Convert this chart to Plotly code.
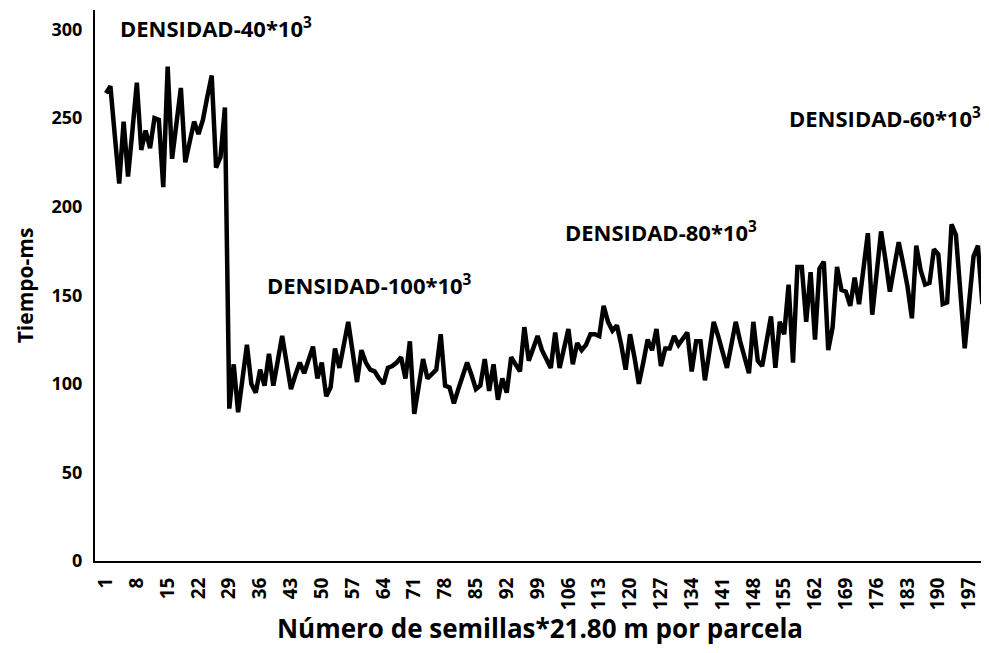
import plotly.graph_objects as go

# tiempo (ms) por semilla
tiempo_ms = [
    264, 268, 240, 213, 248, 217, 243, 270, 232, 243,
    233, 250, 249, 211, 279, 227, 247, 267, 225, 237,
    248, 241, 249, 262, 274, 222, 228, 256, 86, 111,
    84, 103, 122, 100, 95, 108, 99, 117, 99, 113,
    127, 112, 97, 105, 112, 106, 113, 121, 103, 112,
    93, 98, 120, 109, 122, 135, 118, 101, 119, 112,
    108, 107, 103, 100, 109, 110, 112, 115, 103, 124,
    83, 100, 114, 103, 106, 108, 128, 99, 98, 89,
    97, 104, 112, 105, 97, 99, 114, 96, 111, 91,
    103, 95, 115, 111, 107, 132, 113, 120, 127, 119,
    114, 109, 129, 109, 120, 131, 111, 123, 119, 122,
    128, 128, 127, 144, 135, 130, 133, 122, 108, 128,
    115, 100, 112, 125, 119, 131, 110, 120, 120, 127,
    122, 126, 129, 107, 124, 124, 102, 118, 135, 127,
    118, 109, 122, 135, 124, 114, 106, 135, 113, 110,
    125, 138, 109, 135, 128, 156, 112, 166, 166, 135,
    163, 125, 165, 169, 119, 132, 166, 153, 152, 144,
    160, 145, 165, 185, 139, 163, 186, 170, 152, 166,
    180, 168, 155, 137, 178, 164, 156, 157, 176, 173,
    145, 146, 190, 184, 152, 120, 146, 172, 178, 145,
]
semillas = list(range(1, len(tiempo_ms) + 1))
ticks_x = list(range(1, 198, 7))
ticks_y = [0, 50, 100, 150, 200, 250, 300]

etiquetas = [
    ("DENSIDAD-40*10<sup>3</sup>", 3.7, 301),
    ("DENSIDAD-100*10<sup>3</sup>", 37.1, 156),
    ("DENSIDAD-80*10<sup>3</sup>", 104.8, 186),
    ("DENSIDAD-60*10<sup>3</sup>", 155.6, 250.6),
]

fuente = "Open Sans"

fig = go.Figure()
fig.add_trace(
    go.Scatter(
        x=semillas,
        y=tiempo_ms,
        mode="lines",
        line=dict(color="black", width=4.5),
        showlegend=False,
    )
)

for texto, x, y in etiquetas:
    fig.add_annotation(
        x=x, y=y, text="<b>" + texto + "</b>",
        showarrow=False, xanchor="left", yanchor="middle",
        font=dict(family=fuente, size=22, color="black"),
    )

fig.update_xaxes(
    range=[-1.5, 200.6],
    tickvals=ticks_x,
    ticktext=["<b>%d</b>" % t for t in ticks_x],
    tickangle=-90,
    tickfont=dict(family=fuente, size=19, color="black"),
    showgrid=False,
    zeroline=False,
    showline=True,
    linecolor="black",
    linewidth=2,
    ticks="",
    ticklabelstandoff=7,
    automargin=False,
    title=dict(
        text="<b>Número de semillas*21.80 m por parcela</b>",
        font=dict(family=fuente, size=26, color="black"),
        standoff=10,
    ),
)
fig.update_yaxes(
    range=[0, 311],
    tickvals=ticks_y,
    ticktext=["<b>%d</b>" % t for t in ticks_y],
    tickfont=dict(family=fuente, size=18, color="black"),
    showgrid=False,
    zeroline=False,
    showline=True,
    linecolor="black",
    linewidth=2,
    ticks="",
    ticklabelstandoff=7,
    automargin=False,
    title=dict(
        text="<b>Tiempo-ms</b>",
        font=dict(family=fuente, size=21, color="black"),
        standoff=12,
    ),
)
# la pagina tiene 8px de margen en el body: figura mas chica y margenes compensados
fig.update_layout(
    width=981,
    height=645,
    plot_bgcolor="white",
    paper_bgcolor="white",
    margin=dict(l=87, r=4, t=2, b=92),
)

fig.write_html("out.html")
